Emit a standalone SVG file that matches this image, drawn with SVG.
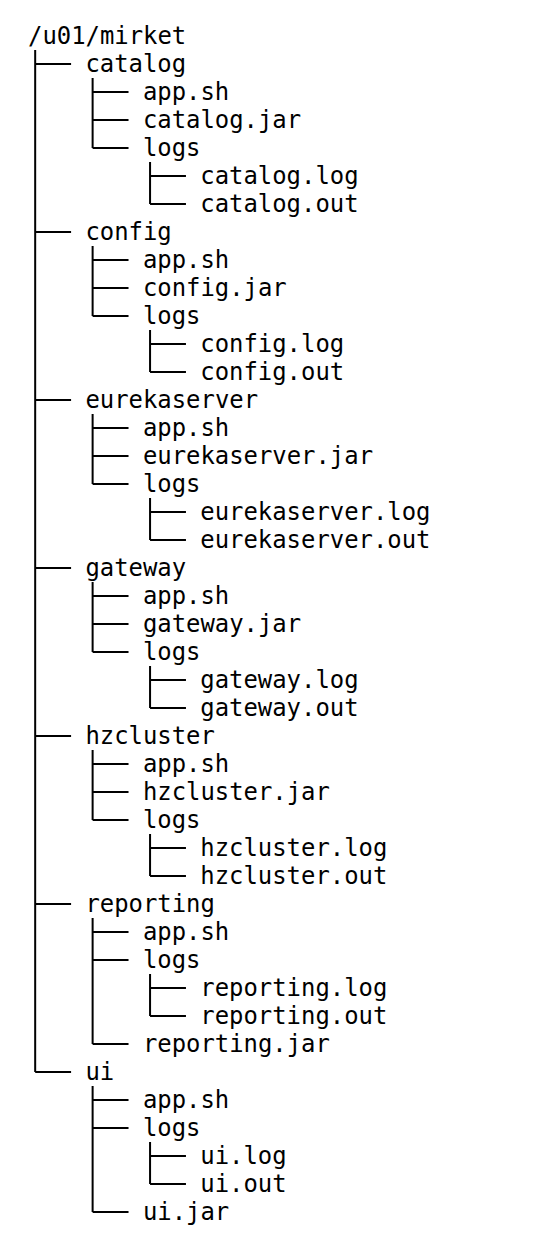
<svg xmlns="http://www.w3.org/2000/svg" width="538" height="1246" viewBox="0 0 538 1246">
<style>
text{font-family:"DejaVu Sans Mono","Liberation Mono",monospace;font-size:23.9px;fill:#000}
.c{fill:none;stroke:#000;stroke-width:2}
</style>
<rect width="538" height="1246" fill="#fff"/>
<g id="connectors" class="c">
<path d="M35.18 50V1072M35.18 64H71.08M35.18 232H71.08M35.18 400H71.08M35.18 568H71.08M35.18 736H71.08M35.18 904H71.08M35.18 1072H71.08"/>
<path d="M92.62 78V148M92.62 92H128.52M92.62 120H128.52M92.62 148H128.52M150.06 162V204M150.06 176H185.96M150.06 204H185.96"/>
<path d="M92.62 246V316M92.62 260H128.52M92.62 288H128.52M92.62 316H128.52M150.06 330V372M150.06 344H185.96M150.06 372H185.96"/>
<path d="M92.62 414V484M92.62 428H128.52M92.62 456H128.52M92.62 484H128.52M150.06 498V540M150.06 512H185.96M150.06 540H185.96"/>
<path d="M92.62 582V652M92.62 596H128.52M92.62 624H128.52M92.62 652H128.52M150.06 666V708M150.06 680H185.96M150.06 708H185.96"/>
<path d="M92.62 750V820M92.62 764H128.52M92.62 792H128.52M92.62 820H128.52M150.06 834V876M150.06 848H185.96M150.06 876H185.96"/>
<path d="M92.62 918V1044M92.62 932H128.52M92.62 960H128.52M92.62 1044H128.52M150.06 974V1016M150.06 988H185.96M150.06 1016H185.96"/>
<path d="M92.62 1086V1212M92.62 1100H128.52M92.62 1128H128.52M92.62 1212H128.52M150.06 1142V1184M150.06 1156H185.96M150.06 1184H185.96"/>
</g>
<g id="root"><text x="28" y="44">/u01/mirket</text></g>
<g id="catalog"><text x="85.44" y="72">catalog</text></g>
<g id="catalog-app"><text x="142.88" y="100">app.sh</text></g>
<g id="catalog-jar"><text x="142.88" y="128">catalog.jar</text></g>
<g id="catalog-logs"><text x="142.88" y="156">logs</text></g>
<g id="catalog-log"><text x="200.32" y="184">catalog.log</text></g>
<g id="catalog-out"><text x="200.32" y="212">catalog.out</text></g>
<g id="config"><text x="85.44" y="240">config</text></g>
<g id="config-app"><text x="142.88" y="268">app.sh</text></g>
<g id="config-jar"><text x="142.88" y="296">config.jar</text></g>
<g id="config-logs"><text x="142.88" y="324">logs</text></g>
<g id="config-log"><text x="200.32" y="352">config.log</text></g>
<g id="config-out"><text x="200.32" y="380">config.out</text></g>
<g id="eurekaserver"><text x="85.44" y="408">eurekaserver</text></g>
<g id="eurekaserver-app"><text x="142.88" y="436">app.sh</text></g>
<g id="eurekaserver-jar"><text x="142.88" y="464">eurekaserver.jar</text></g>
<g id="eurekaserver-logs"><text x="142.88" y="492">logs</text></g>
<g id="eurekaserver-log"><text x="200.32" y="520">eurekaserver.log</text></g>
<g id="eurekaserver-out"><text x="200.32" y="548">eurekaserver.out</text></g>
<g id="gateway"><text x="85.44" y="576">gateway</text></g>
<g id="gateway-app"><text x="142.88" y="604">app.sh</text></g>
<g id="gateway-jar"><text x="142.88" y="632">gateway.jar</text></g>
<g id="gateway-logs"><text x="142.88" y="660">logs</text></g>
<g id="gateway-log"><text x="200.32" y="688">gateway.log</text></g>
<g id="gateway-out"><text x="200.32" y="716">gateway.out</text></g>
<g id="hzcluster"><text x="85.44" y="744">hzcluster</text></g>
<g id="hzcluster-app"><text x="142.88" y="772">app.sh</text></g>
<g id="hzcluster-jar"><text x="142.88" y="800">hzcluster.jar</text></g>
<g id="hzcluster-logs"><text x="142.88" y="828">logs</text></g>
<g id="hzcluster-log"><text x="200.32" y="856">hzcluster.log</text></g>
<g id="hzcluster-out"><text x="200.32" y="884">hzcluster.out</text></g>
<g id="reporting"><text x="85.44" y="912">reporting</text></g>
<g id="reporting-app"><text x="142.88" y="940">app.sh</text></g>
<g id="reporting-logs"><text x="142.88" y="968">logs</text></g>
<g id="reporting-log"><text x="200.32" y="996">reporting.log</text></g>
<g id="reporting-out"><text x="200.32" y="1024">reporting.out</text></g>
<g id="reporting-jar"><text x="142.88" y="1052">reporting.jar</text></g>
<g id="ui"><text x="85.44" y="1080">ui</text></g>
<g id="ui-app"><text x="142.88" y="1108">app.sh</text></g>
<g id="ui-logs"><text x="142.88" y="1136">logs</text></g>
<g id="ui-log"><text x="200.32" y="1164">ui.log</text></g>
<g id="ui-out"><text x="200.32" y="1192">ui.out</text></g>
<g id="ui-jar"><text x="142.88" y="1220">ui.jar</text></g>
</svg>
